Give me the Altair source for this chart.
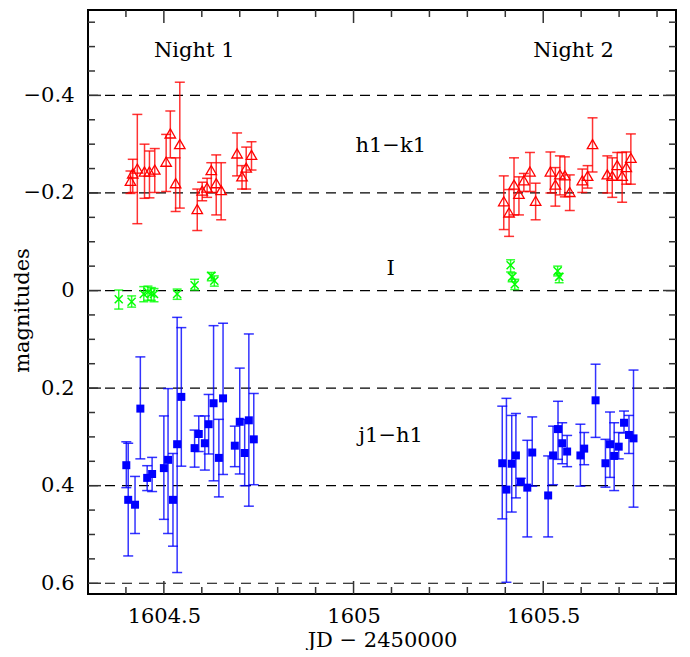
import altair as alt
import pandas as pd

# ---------------- data ----------------
# h1-k1 (red open triangles)
hk_x = [1604.412, 1604.418, 1604.430, 1604.449, 1604.462, 1604.476, 1604.506, 1604.517, 1604.531, 1604.542,
        1604.588, 1604.601, 1604.614, 1604.625, 1604.638, 1604.651, 1604.693, 1604.706, 1604.717, 1604.731,
        1605.396, 1605.410, 1605.423, 1605.436, 1605.449, 1605.465, 1605.480, 1605.519, 1605.532, 1605.544,
        1605.557, 1605.570, 1605.603, 1605.617, 1605.630, 1605.669, 1605.682, 1605.695, 1605.708, 1605.719, 1605.731]
hk_y = [-0.225, -0.240, -0.250, -0.244, -0.244, -0.248, -0.264, -0.322, -0.220, -0.300,
        -0.167, -0.205, -0.211, -0.247, -0.220, -0.206, -0.281, -0.234, -0.252, -0.278,
        -0.183, -0.160, -0.217, -0.198, -0.226, -0.244, -0.184, -0.244, -0.217, -0.238,
        -0.236, -0.202, -0.226, -0.235, -0.300, -0.238, -0.235, -0.257, -0.235, -0.253, -0.272]
hk_lo = [-0.245, -0.269, -0.361, -0.300, -0.286, -0.291, -0.320, -0.368, -0.272, -0.427,
         -0.208, -0.222, -0.230, -0.262, -0.278, -0.262, -0.323, -0.256, -0.294, -0.305,
         -0.235, -0.207, -0.272, -0.233, -0.240, -0.283, -0.220, -0.284, -0.252, -0.276,
         -0.274, -0.237, -0.249, -0.256, -0.354, -0.276, -0.272, -0.283, -0.283, -0.284, -0.321]
hk_hi = [-0.199, -0.201, -0.137, -0.189, -0.190, -0.201, -0.203, -0.272, -0.162, -0.169,
         -0.123, -0.184, -0.191, -0.201, -0.155, -0.145, -0.235, -0.208, -0.208, -0.247,
         -0.125, -0.111, -0.155, -0.155, -0.203, -0.203, -0.145, -0.200, -0.173, -0.196,
         -0.192, -0.164, -0.201, -0.210, -0.243, -0.200, -0.191, -0.226, -0.181, -0.218, -0.218]

# I (green)
i_x = [1604.381, 1604.415, 1604.447, 1604.458, 1604.467, 1604.474, 1604.535, 1604.581, 1604.625, 1604.633,
       1605.414, 1605.418, 1605.425, 1605.538, 1605.542]
i_y = [0.018, 0.023, 0.007, 0.003, 0.006, 0.007, 0.007, -0.011, -0.030, -0.020,
       -0.052, -0.028, -0.013, -0.040, -0.028]
i_lo = [-0.001, 0.011, -0.008, -0.009, -0.006, -0.004, -0.003, -0.023, -0.037, -0.030,
        -0.063, -0.036, -0.023, -0.050, -0.035]
i_hi = [0.038, 0.034, 0.023, 0.020, 0.020, 0.023, 0.018, -0.001, -0.020, -0.009,
        -0.038, -0.018, -0.002, -0.030, -0.016]

# j1-h1 (blue filled squares)
jh_x = [1604.401, 1604.406, 1604.424, 1604.438, 1604.456, 1604.469, 1604.500, 1604.511, 1604.524, 1604.535,
        1604.546, 1604.581, 1604.592, 1604.608, 1604.618, 1604.631, 1604.645, 1604.656, 1604.687, 1604.700,
        1604.713, 1604.724, 1604.737,
        1605.392, 1605.403, 1605.417, 1605.428, 1605.441, 1605.458, 1605.471, 1605.513, 1605.526, 1605.539,
        1605.550, 1605.563, 1605.598, 1605.608, 1605.638, 1605.664, 1605.676, 1605.687, 1605.699, 1605.713,
        1605.726, 1605.738]
jh_y = [0.358, 0.429, 0.439, 0.242, 0.384, 0.376, 0.364, 0.347, 0.429, 0.315,
        0.218, 0.323, 0.294, 0.313, 0.274, 0.231, 0.343, 0.221, 0.318, 0.269,
        0.333, 0.266, 0.305,
        0.354, 0.408, 0.355, 0.338, 0.392, 0.404, 0.332, 0.420, 0.338, 0.284,
        0.313, 0.330, 0.338, 0.324, 0.225, 0.354, 0.315, 0.339, 0.320, 0.271,
        0.296, 0.303]
jh_lo = [0.310, 0.313, 0.381, 0.136, 0.359, 0.342, 0.257, 0.201, 0.334, 0.055,
         0.076, 0.286, 0.257, 0.257, 0.213, 0.072, 0.264, 0.067, 0.278, 0.159,
         0.264, 0.089, 0.211,
         0.237, 0.221, 0.256, 0.252, 0.385, 0.307, 0.259, 0.339, 0.278, 0.227,
         0.271, 0.297, 0.274, 0.291, 0.151, 0.305, 0.249, 0.271, 0.291, 0.247,
         0.256, 0.163]
jh_hi = [0.404, 0.544, 0.498, 0.345, 0.410, 0.412, 0.469, 0.498, 0.524, 0.578,
         0.360, 0.362, 0.330, 0.368, 0.335, 0.390, 0.423, 0.377, 0.361, 0.376,
         0.400, 0.442, 0.398,
         0.468, 0.598, 0.454, 0.425, 0.398, 0.505, 0.401, 0.505, 0.398, 0.346,
         0.355, 0.361, 0.401, 0.357, 0.301, 0.403, 0.383, 0.410, 0.345, 0.292,
         0.334, 0.444]

# annotations
ann_text = ["Night 1", "Night 2", "h1\u2212k1", "I", "j1\u2212h1"]
ann_x = [1604.58, 1605.58, 1605.098, 1605.098, 1605.098]
ann_y = [-0.49, -0.49, -0.296, -0.044, 0.298]

# axis ticks / reference levels
x_major = [1604.5, 1605.0, 1605.5]
x_minor = [1604.4, 1604.6, 1604.7, 1604.8, 1604.9, 1605.1, 1605.2, 1605.3, 1605.4, 1605.6, 1605.7, 1605.8]
y_major = [-0.4, -0.2, 0.0, 0.2, 0.4, 0.6]
y_minor = [-0.55, -0.5, -0.45, -0.35, -0.3, -0.25, -0.15, -0.1, -0.05, 0.05, 0.1, 0.15,
           0.25, 0.3, 0.35, 0.45, 0.5, 0.55]

# ---------------- chart ----------------
W, H = 588, 584
FONT = "DejaVu Serif"
FS = 21

xs = alt.Scale(domain=[1604.3, 1605.85], nice=False, zero=False)
ys = alt.Scale(domain=[-0.575, 0.622], reverse=True, nice=False, zero=False)

x_axis = alt.Axis(values=x_major, format="~g", title="JD \u2212 2450000", grid=False, domain=False,
                  ticks=False, labelPadding=11, titlePadding=3, labelFont=FONT, labelFontSize=FS,
                  titleFont=FONT, titleFontSize=FS, titleFontWeight="normal",
                  labelColor="black", titleColor="black")
y_axis = alt.Axis(values=y_major, format="~g", title="magnitudes", grid=False, domain=False,
                  ticks=False, labelPadding=14, labelFont=FONT, labelFontSize=FS,
                  titleFont=FONT, titleFontSize=FS, titleFontWeight="normal",
                  labelColor="black", titleColor="black", titleAngle=270,
                  titleX=-60, titleY=300, titleBaseline="alphabetic", titleAlign="center")


def X(f):
    return alt.X(f"{f}:Q", scale=xs, axis=x_axis)


def Y(f):
    return alt.Y(f"{f}:Q", scale=ys, axis=y_axis)


hk = pd.DataFrame({"x": hk_x, "y": hk_y, "lo": hk_lo, "hi": hk_hi})
ii = pd.DataFrame({"x": i_x, "y": i_y, "lo": i_lo, "hi": i_hi})
jh = pd.DataFrame({"x": jh_x, "y": jh_y, "lo": jh_lo, "hi": jh_hi})
ann = pd.DataFrame({"t": ann_text, "x": ann_x, "y": ann_y})

layers = []

# dashed reference levels
layers.append(alt.Chart(pd.DataFrame({"v": y_major})).mark_rule(
    color="black", strokeDash=[10, 7], strokeWidth=1.2).encode(y=Y("v")))

# inward ticks (frame chrome)
TC = "#333333"
xmaj = pd.DataFrame({"t": x_major})
xmin = pd.DataFrame({"t": x_minor})
ymaj = pd.DataFrame({"t": y_major})
ymin = pd.DataFrame({"t": y_minor})
for d, L in ((xmaj, 13), (xmin, 7)):
    layers.append(alt.Chart(d).mark_rule(color=TC, strokeWidth=1.5).encode(
        x=X("t"), y=alt.value(H), y2=alt.value(H - L)))
    layers.append(alt.Chart(d).mark_rule(color=TC, strokeWidth=1.5).encode(
        x=X("t"), y=alt.value(0), y2=alt.value(L)))
for d, L in ((ymaj, 13), (ymin, 7)):
    layers.append(alt.Chart(d).mark_rule(color=TC, strokeWidth=1.5).encode(
        y=Y("t"), x=alt.value(0), x2=alt.value(L)))
    layers.append(alt.Chart(d).mark_rule(color=TC, strokeWidth=1.5).encode(
        y=Y("t"), x=alt.value(W), x2=alt.value(W - L)))


def errbars(df, color, cap):
    out = [alt.Chart(df).mark_rule(color=color, strokeWidth=1.5, opacity=0.8).encode(
        x=X("x"), y=Y("lo"), y2="hi:Q")]
    for f in ("lo", "hi"):
        out.append(alt.Chart(df).mark_tick(color=color, orient="horizontal", size=cap,
                                           thickness=1.5, opacity=0.8).encode(x=X("x"), y=Y(f)))
    return out


layers += errbars(hk, "#ff0000", 10)
layers += errbars(ii, "#00ff00", 9)
layers += errbars(jh, "#0000ff", 10)

layers.append(alt.Chart(hk).mark_point(shape="triangle-up", filled=False, color="#ff0000",
                                       size=110, strokeWidth=1.3, opacity=1).encode(x=X("x"), y=Y("y")))
layers.append(alt.Chart(ii).mark_point(shape="M-1,-1L1,1M-1,1L1,-1", filled=False, color="#00ff00",
                                       size=64, strokeWidth=1.5, opacity=1).encode(x=X("x"), y=Y("y")))
layers.append(alt.Chart(jh).mark_square(color="#0000ff", size=64, opacity=1).encode(x=X("x"), y=Y("y")))

layers.append(alt.Chart(ann).mark_text(font=FONT, fontSize=FS, color="black").encode(
    x=X("x"), y=Y("y"), text="t:N"))

chart = alt.layer(*layers).properties(
    width=W, height=H,
    padding={"left": 3, "top": 1, "right": 2, "bottom": 0},
    background="white",
).configure_view(stroke="black", strokeWidth=2)

chart.save("out.html", embed_options={"renderer": "svg", "actions": False})
